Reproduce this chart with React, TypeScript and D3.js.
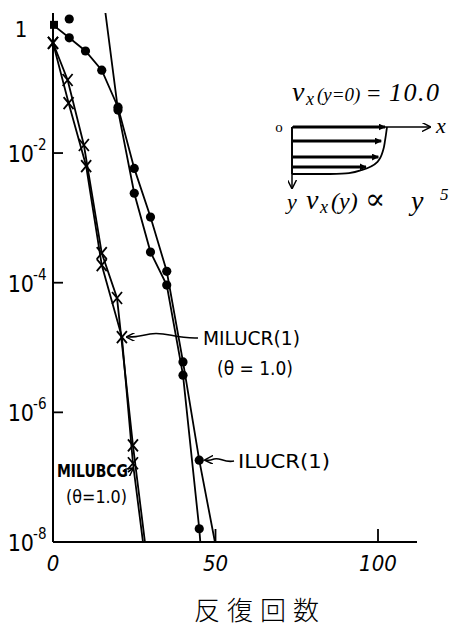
import React from 'react';
import * as d3 from 'd3';

const W = 453, H = 630;

// ILUCR(1): filled-dot residual history (iteration, relative residual)
const ilucrIter = [0, 5, 10, 15, 20, 25, 30, 35, 40, 45, 50];
const ilucrRes = [0.95, 0.6, 0.375, 0.19, 0.051, 5.8e-3, 1.03e-3, 1.5e-4, 6.0e-6, 1.83e-7, 9e-9];
// second dot curve, comes in from above the frame
const ilucr2Iter = [15, 20, 25, 30, 35, 40, 45, 45.4];
const ilucr2Res = [4.0, 0.046, 2.4e-3, 2.97e-4, 9.2e-5, 3.75e-6, 1.6e-8, 9e-9];
// lone dot above 1
const strayIter = [5];
const strayRes = [1.17];
// MILUCR(1), theta = 1.0 (crosses)
const milucrIter = [0, 4.8, 10.2, 15, 21.2, 24.6, 27.8];
const milucrRes = [0.5, 0.059, 6.3e-3, 1.87e-4, 1.45e-5, 1.64e-7, 9e-9];
// MILUBCG, theta = 1.0 (crosses)
const milubcgIter = [0, 4.5, 9.5, 15, 19.7, 24.6, 28.4];
const milubcgRes = [0.5, 0.134, 0.0133, 2.86e-4, 5.8e-5, 3.1e-7, 9e-9];

// axes
const yLabelExps = [0, -2, -4, -6, -8];
const yTickExps = [-2, -4, -6];
const xTicks = [50, 100];
const xLabels = [0, 50, 100];

// inset velocity profile v_x(depth)
const profileV = [10, 9.8, 9.6, 9.0, 7.4, 6.0, 4.0, 0];
const profileDepth = [0, 0.28, 0.49, 0.74, 0.91, 0.98, 1, 1];
const arrowDepth = [0, 0.3, 0.64, 0.85];
const arrowV = [10, 9.6, 9.3, 8.0];

const FONT = "'Liberation Sans Narrow', 'DejaVu Sans Condensed', 'DejaVu Sans', sans-serif";
const IFONT = "'Liberation Serif', 'DejaVu Serif', serif";

const zip = (a: number[], b: number[]) => a.map((v, i) => [v, b[i]] as [number, number]);

export default function App() {
  const x = d3.scaleLinear().domain([0, 100]).range([53, 378]);
  const y = d3.scaleLog().domain([1e-8, 1]).range([542, 23.4]);
  const xEnd = 112, yTop = 1.45;

  const line = d3.line<[number, number]>().x(d => x(d[0])).y(d => y(d[1]));

  const ilucr = zip(ilucrIter, ilucrRes);
  const ilucr2 = zip(ilucr2Iter, ilucr2Res);
  const milucr = zip(milucrIter, milucrRes);
  const milubcg = zip(milubcgIter, milubcgRes);
  const stray = zip(strayIter, strayRes);

  const iv = d3.scaleLinear().domain([0, 10]).range([292, 387]);
  const id = d3.scaleLinear().domain([0, 1]).range([127, 174]);
  const profLine = d3.line<[number, number]>().x(d => iv(d[0])).y(d => id(d[1])).curve(d3.curveMonotoneY);

  const cross = (p: [number, number], k: number) => {
    const cx = x(p[0]), cy = y(p[1]);
    return <path key={k} d={`M${cx - 5},${cy - 6}L${cx + 5},${cy + 6}M${cx + 5},${cy - 6}L${cx - 5},${cy + 6}`} stroke="#000" strokeWidth={1.8} fill="none" />;
  };
  const dot = (p: [number, number], k: number) => <circle key={k} cx={x(p[0])} cy={y(p[1])} r={4.6} fill="#000" />;

  const x0 = x(0), yBase = y(1e-8);

  return (
    <svg width={W} height={H} style={{ position: 'absolute', left: 0, top: 0, background: '#fff' }}>
      <defs>
        <clipPath id="plot">
          <rect x={x0} y={y(yTop)} width={x(xEnd) - x0} height={yBase - y(yTop)} />
        </clipPath>
        <marker id="openArrow" viewBox="0 0 10 10" refX="9" refY="5" markerWidth="9" markerHeight="9" orient="auto" markerUnits="userSpaceOnUse">
          <path d="M0,0L10,5L0,10" fill="none" stroke="#000" strokeWidth={1.6} />
        </marker>
        <marker id="solidArrow" viewBox="0 0 10 10" refX="9" refY="5" markerWidth="7" markerHeight="7" orient="auto" markerUnits="userSpaceOnUse">
          <path d="M0,0L10,5L0,10Z" fill="#000" />
        </marker>
      </defs>

      {/* axes */}
      <line x1={x0} x2={x0} y1={y(yTop)} y2={yBase} stroke="#000" strokeWidth={2} />
      <line x1={x0} x2={x(xEnd)} y1={yBase} y2={yBase} stroke="#000" strokeWidth={2} />
      {yTickExps.map(e => (
        <line key={e} x1={x0} x2={x0 + 10} y1={y(10 ** e)} y2={y(10 ** e)} stroke="#000" strokeWidth={1.8} />
      ))}
      {xTicks.map(t => (
        <line key={t} x1={x(t)} x2={x(t)} y1={yBase} y2={yBase - 13} stroke="#000" strokeWidth={1.8} />
      ))}

      {/* y labels */}
      {yLabelExps.map(e => e === 0 ? (
        <text key={e} x={21} y={y(1) + 14} fontSize={22} fontFamily={FONT} textAnchor="middle">1</text>
      ) : (
        <g key={e} fontFamily={FONT}>
          <text x={34} y={y(10 ** e) + 9} fontSize={23} textAnchor="end">10</text>
          <text x={33} y={y(10 ** e) - 3} fontSize={15}>-{-e}</text>
        </g>
      ))}

      {/* x labels */}
      {xLabels.map(t => (
        <text key={t} x={x(t)} y={yBase + 29} fontSize={22} fontFamily={FONT} fontStyle="italic" textAnchor="middle">{t}</text>
      ))}
      <text x={260} y={620} fontSize={26} fontFamily="'Noto Sans CJK JP', sans-serif" fontWeight={300} textAnchor="middle" letterSpacing={7}>反復回数</text>

      {/* curves */}
      <g clipPath="url(#plot)" fill="none" stroke="#000" strokeWidth={1.8}>
        <path d={line(ilucr) || ''} />
        <path d={line(ilucr2) || ''} />
        <path d={line(milucr) || ''} />
        <path d={line(milubcg) || ''} />
      </g>
      <g>
        <rect x={x(ilucr[0][0]) - 3} y={y(ilucr[0][1]) - 4} width={8} height={8} fill="#000" />
        {ilucr.slice(1, -1).map(dot)}
        {ilucr2.slice(1, -1).map(dot)}
        {stray.map(dot)}
        {milucr.slice(0, -1).map(cross)}
        {milubcg.slice(0, -1).map(cross)}
      </g>

      {/* annotations */}
      <g fontFamily={FONT} fill="#000">
        <path d={`M198,338 C175,339 165,331 150,334 S135,337 ${x(milucr[4][0]) + 5},${y(milucr[4][1])}`} fill="none" stroke="#000" strokeWidth={1.6} markerEnd="url(#openArrow)" />
        <text x={203} y={345} fontSize={20} textLength={97} lengthAdjust="spacingAndGlyphs">MILUCR(1)</text>
        <text x={217} y={375} fontSize={19} textLength={76} lengthAdjust="spacingAndGlyphs">(θ = 1.0)</text>

        <path d={`M234,461 C224,463 220,457 214,459 S210,460 ${x(ilucr[9][0]) + 6},${y(ilucr[9][1])}`} fill="none" stroke="#000" strokeWidth={1.6} markerEnd="url(#openArrow)" />
        <text x={238} y={468} fontSize={20} textLength={92} lengthAdjust="spacingAndGlyphs">ILUCR(1)</text>

        <path d={`M128,472 L${x(milucr[5][0])},${y(milucr[5][1]) + 5}`} fill="none" stroke="#000" strokeWidth={1.6} markerEnd="url(#openArrow)" />
        <text x={57} y={477} fontSize={18} fontWeight={600} textLength={71} lengthAdjust="spacingAndGlyphs">MILUBCG</text>
        <text x={66} y={503} fontSize={18} textLength={61} lengthAdjust="spacingAndGlyphs">(θ=1.0)</text>
      </g>

      {/* inset: velocity profile */}
      <g fontFamily={IFONT} fontStyle="italic" fill="#000">
        <text x={292} y={101} fontSize={28}>v</text>
        <text x={306} y={105} fontSize={18}>x</text>
        <text x={317} y={101} fontSize={19}>(y=0)</text>
        <text x={367} y={101} fontSize={24} fontStyle="normal">=</text>
        <text x={389} y={101} fontSize={26} letterSpacing={1.5}>10.0</text>

        <text x={279} y={132} fontSize={15} fontStyle="normal" textAnchor="middle">o</text>
        <line x1={iv(0)} x2={430} y1={id(0)} y2={id(0)} stroke="#000" strokeWidth={1.5} markerEnd="url(#openArrow)" />
        <text x={436} y={133} fontSize={22}>x</text>
        <line x1={iv(0)} x2={iv(0)} y1={id(0)} y2={188} stroke="#000" strokeWidth={1.5} markerEnd="url(#openArrow)" />
        <text x={iv(0)} y={209} fontSize={22} textAnchor="middle">y</text>
        <path d={profLine(zip(profileV, profileDepth)) || ''} fill="none" stroke="#000" strokeWidth={1.8} />
        <line x1={iv(0)} x2={iv(0)} y1={id(0)} y2={id(1)} stroke="#000" strokeWidth={1.8} />
        {arrowDepth.map((dd, i) => (
          <line key={i} x1={iv(0) + 1} x2={iv(arrowV[i]) - 2} y1={id(dd)} y2={id(dd)} stroke="#000" strokeWidth={3} markerEnd="url(#solidArrow)" />
        ))}

        <text x={306} y={209} fontSize={28}>v</text>
        <text x={320} y={213} fontSize={18}>x</text>
        <text x={331} y={209} fontSize={24}>(y)</text>
        <text x={365} y={209} fontSize={30} fontStyle="normal">∝</text>
        <text x={411} y={210} fontSize={28}>y</text>
        <text x={440} y={200} fontSize={17}>5</text>
      </g>
    </svg>
  );
}
